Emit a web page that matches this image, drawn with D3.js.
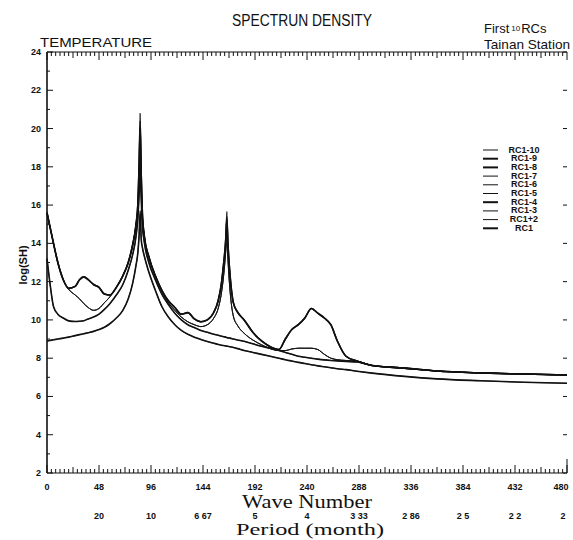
<!DOCTYPE html>
<html>
<head>
<meta charset="utf-8">
<script src="https://cdn.jsdelivr.net/npm/d3@7/dist/d3.min.js"></script>
<style>
  html, body { margin: 0; padding: 0; background: #fff; }
  svg { display: block; }
  .tick-label { font-family: "Liberation Sans", Arial, sans-serif; font-weight: bold; font-size: 9px; fill: #111; }
  .serif { font-family: "Liberation Serif", "DejaVu Serif", serif; fill: #111; }
  .sans { font-family: "Liberation Sans", Arial, sans-serif; fill: #111; }
</style>
</head>
<body>
<svg id="chart" width="573" height="540"></svg>
<script>
// Wave numbers at which each spectrum is sampled
const waveNumbers = [0, 3, 6, 10, 15, 20, 26, 30, 34, 38,
  43, 48, 53, 58, 64, 70, 75, 79, 82, 84,
  85, 86, 87, 88, 90, 94, 100, 106, 112, 118,
  124, 130, 136, 142, 148, 154, 158, 161, 163, 165,
  166, 167, 169, 172, 176, 182, 190, 198, 206, 214,
  220, 226, 232, 238, 244, 250, 256, 262, 268, 276,
  286, 300, 330, 360, 400, 440, 480];

// log spectral density of the cumulative reconstructed components
const rc1 = [8.9, 8.93, 8.96, 9.0, 9.05, 9.1, 9.18, 9.23, 9.28, 9.33,
  9.4, 9.5, 9.62, 9.8, 10.1, 10.5, 11.1, 11.9, 12.8, 13.6,
  14.4, 15.7, 14.2, 13.8, 13.3, 12.5, 11.55, 10.7, 10.15, 9.75,
  9.45, 9.25, 9.1, 8.98, 8.87, 8.78, 8.72, 8.68, 8.66, 8.64,
  8.63, 8.62, 8.6, 8.56, 8.5, 8.4, 8.3, 8.2, 8.1, 8.0,
  7.92, 7.85, 7.78, 7.72, 7.66, 7.6, 7.55, 7.5, 7.45, 7.4,
  7.32, 7.22, 7.05, 6.92, 6.82, 6.74, 6.69];
const rc1_2 = [8.9, 8.93, 8.96, 9.0, 9.05, 9.1, 9.18, 9.23, 9.28, 9.33,
  9.4, 9.5, 9.62, 9.8, 10.1, 10.5, 11.1, 11.9, 12.8, 13.6,
  14.4, 15.3, 14.2, 13.8, 13.3, 12.5, 11.55, 10.7, 10.15, 9.75,
  9.45, 9.25, 9.1, 8.98, 8.87, 8.78, 8.72, 8.68, 8.66, 8.64,
  8.63, 8.62, 8.6, 8.56, 8.5, 8.4, 8.3, 8.2, 8.1, 8.0,
  7.92, 7.85, 7.78, 7.72, 7.66, 7.6, 7.55, 7.5, 7.45, 7.4,
  7.32, 7.22, 7.05, 6.92, 6.82, 6.74, 6.69];
const rc1_3 = [13.2, 11.8, 10.7, 10.3, 10.1, 9.95, 9.92, 9.93, 9.96, 10.05,
  10.15, 10.3, 10.55, 10.85, 11.3, 11.85, 12.6, 13.4, 14.3, 15.4,
  16.5, 17.2, 16.3, 15.0, 14.0, 13.0, 12.1, 11.35, 10.8, 10.35,
  10.0, 9.75, 9.6, 9.45, 9.35, 9.25, 9.2, 9.15, 9.12, 9.1,
  9.08, 9.06, 9.05, 9.0, 8.95, 8.88, 8.75, 8.62, 8.52, 8.4,
  8.3, 8.2, 8.1, 8.05, 8.0, 7.95, 7.91, 7.88, 7.86, 7.83,
  7.8, 7.62, 7.48, 7.33, 7.23, 7.17, 7.12];
const rc1_4 = [13.2, 11.8, 10.7, 10.3, 10.1, 9.95, 9.92, 9.93, 9.96, 10.05,
  10.15, 10.3, 10.55, 10.85, 11.3, 11.85, 12.6, 13.4, 14.3, 15.4,
  16.5, 18.0, 16.3, 15.0, 14.0, 13.0, 12.1, 11.35, 10.8, 10.35,
  10.0, 9.75, 9.6, 9.45, 9.35, 9.25, 9.2, 9.15, 9.12, 9.1,
  9.08, 9.06, 9.05, 9.0, 8.95, 8.88, 8.75, 8.62, 8.52, 8.4,
  8.3, 8.2, 8.1, 8.05, 8.0, 7.95, 7.91, 7.88, 7.86, 7.83,
  7.8, 7.62, 7.48, 7.33, 7.23, 7.17, 7.12];
const rc1_5 = [15.6, 14.8, 14.0, 13.0, 12.1, 11.6, 11.3, 11.1, 10.85, 10.65,
  10.5, 10.6, 10.9, 11.2, 11.7, 12.3, 13.0, 13.9, 14.9, 16.0,
  17.5, 18.6, 17.0, 15.5, 14.3, 13.3, 12.3, 11.5, 10.9, 10.5,
  10.15, 9.9, 9.75, 9.65, 9.75, 10.1, 10.6, 11.4, 12.3, 13.6,
  14.0, 13.2, 11.5, 10.2, 9.7, 9.3, 8.95, 8.7, 8.5, 8.4,
  8.4, 8.48, 8.52, 8.52, 8.52, 8.45, 8.2, 8.0, 7.92, 7.88,
  7.85, 7.62, 7.48, 7.33, 7.23, 7.17, 7.12];
const rc1_6 = [15.6, 14.8, 14.0, 13.0, 12.1, 11.6, 11.3, 11.1, 10.85, 10.65,
  10.5, 10.6, 10.9, 11.2, 11.7, 12.3, 13.0, 13.9, 14.9, 16.0,
  17.5, 19.0, 17.0, 15.5, 14.3, 13.3, 12.3, 11.5, 10.9, 10.5,
  10.15, 9.9, 9.75, 9.65, 9.75, 10.1, 10.6, 11.4, 12.3, 13.6,
  14.4, 13.2, 11.5, 10.2, 9.7, 9.3, 8.95, 8.7, 8.5, 8.4,
  8.4, 8.48, 8.52, 8.52, 8.52, 8.45, 8.2, 8.0, 7.92, 7.88,
  7.85, 7.62, 7.48, 7.33, 7.23, 7.17, 7.12];
const rc1_7 = [15.6, 14.8, 14.0, 13.0, 12.1, 11.6, 11.3, 11.1, 10.85, 10.65,
  10.5, 10.6, 10.9, 11.2, 11.7, 12.3, 13.0, 13.9, 14.9, 16.0,
  17.5, 19.5, 17.0, 15.5, 14.3, 13.3, 12.3, 11.5, 10.9, 10.5,
  10.15, 9.9, 9.75, 9.65, 9.75, 10.1, 10.6, 11.4, 12.3, 13.6,
  14.8, 13.2, 11.5, 10.2, 9.7, 9.3, 8.95, 8.7, 8.5, 8.4,
  8.4, 8.48, 8.52, 8.52, 8.52, 8.45, 8.2, 8.0, 7.92, 7.88,
  7.85, 7.62, 7.48, 7.33, 7.23, 7.17, 7.12];
const rc1_8 = [15.6, 14.8, 14.0, 13.0, 12.1, 11.65, 11.75, 12.1, 12.25, 12.1,
  11.85, 11.7, 11.35, 11.3, 11.7, 12.3, 13.0, 13.9, 14.9, 16.2,
  18.0, 20.0, 17.5, 15.6, 14.3, 13.3, 12.3, 11.55, 11.0, 10.65,
  10.3, 10.38, 10.05, 9.9, 10.0, 10.4, 11.0, 11.9, 12.9, 14.2,
  15.2, 14.0, 12.3, 10.9, 10.4, 10.0, 9.35, 8.9, 8.6, 8.45,
  9.0, 9.5, 9.75, 10.1, 10.6, 10.35, 10.1, 9.75, 8.9, 8.1,
  7.85, 7.62, 7.48, 7.33, 7.23, 7.17, 7.12];
const rc1_9 = [15.6, 14.8, 14.0, 13.0, 12.1, 11.65, 11.75, 12.1, 12.25, 12.1,
  11.85, 11.7, 11.35, 11.3, 11.7, 12.3, 13.0, 13.9, 14.9, 16.2,
  18.0, 20.4, 17.5, 15.6, 14.3, 13.3, 12.3, 11.55, 11.0, 10.65,
  10.3, 10.38, 10.05, 9.9, 10.0, 10.4, 11.0, 11.9, 12.9, 14.2,
  15.4, 14.0, 12.3, 10.9, 10.4, 10.0, 9.35, 8.9, 8.6, 8.45,
  9.0, 9.5, 9.75, 10.1, 10.6, 10.35, 10.1, 9.75, 8.9, 8.1,
  7.85, 7.62, 7.48, 7.33, 7.23, 7.17, 7.12];
const rc1_10 = [15.6, 14.8, 14.0, 13.0, 12.1, 11.65, 11.75, 12.1, 12.25, 12.1,
  11.85, 11.7, 11.35, 11.3, 11.7, 12.3, 13.0, 13.9, 14.9, 16.2,
  18.0, 20.8, 17.5, 15.6, 14.3, 13.3, 12.3, 11.55, 11.0, 10.65,
  10.3, 10.38, 10.05, 9.9, 10.0, 10.4, 11.0, 11.9, 12.9, 14.2,
  15.66, 14.0, 12.3, 10.9, 10.4, 10.0, 9.35, 8.9, 8.6, 8.45,
  9.0, 9.5, 9.75, 10.1, 10.6, 10.35, 10.1, 9.75, 8.9, 8.1,
  7.85, 7.62, 7.48, 7.33, 7.23, 7.17, 7.12];

// Legend order (top to bottom) and stroke weights
const seriesNames = ["RC1-10", "RC1-9", "RC1-8", "RC1-7", "RC1-6", "RC1-5", "RC1-4", "RC1-3", "RC1+2", "RC1"];
const seriesValues = [rc1_10, rc1_9, rc1_8, rc1_7, rc1_6, rc1_5, rc1_4, rc1_3, rc1_2, rc1];
const seriesWidths = [1, 2, 2, 1, 1, 1, 2, 1, 1, 2];

// Axis ticks
const waveTicks = [0, 48, 96, 144, 192, 240, 288, 336, 384, 432, 480];
const periodLabels = ["20", "10", "6 67", "5", "4", "3 33", "2 86", "2 5", "2 2", "2"];
const logTicks = [2, 4, 6, 8, 10, 12, 14, 16, 18, 20, 22, 24];

const svg = d3.select("#chart");
svg.append("rect").attr("width", 573).attr("height", 540).attr("fill", "#fff");

const x = d3.scaleLinear().domain([0, 480]).range([47, 567]);
const y = d3.scaleLinear().domain([2, 24]).range([473, 52]);
const ink = "#111";

// frame: left, bottom and top edges
svg.append("line").attr("x1", x(0)).attr("x2", x(0)).attr("y1", y(24)).attr("y2", y(2))
  .attr("stroke", ink).attr("stroke-width", 1.6);
svg.append("line").attr("x1", x(0)).attr("x2", x(480)).attr("y1", y(2)).attr("y2", y(2))
  .attr("stroke", ink).attr("stroke-width", 1.2);
svg.append("line").attr("x1", x(0)).attr("x2", x(480)).attr("y1", y(24)).attr("y2", y(24))
  .attr("stroke", ink).attr("stroke-width", 1.2);

// minor ticks every 4 wave numbers on top and bottom edges
const minorWave = d3.range(0, 481, 4);
svg.append("g").selectAll("line").data(minorWave).join("line")
  .attr("x1", d => x(d)).attr("x2", d => x(d))
  .attr("y1", y(2)).attr("y2", d => y(2) - (d % 48 === 0 ? 8 : (d % 24 === 0 ? 6 : 4)))
  .attr("stroke", ink).attr("stroke-width", 1);
svg.append("g").selectAll("line").data(minorWave).join("line")
  .attr("x1", d => x(d)).attr("x2", d => x(d))
  .attr("y1", y(24)).attr("y2", d => y(24) + (d % 48 === 0 ? 8 : (d % 24 === 0 ? 6 : 4)))
  .attr("stroke", ink).attr("stroke-width", 1);

// left and right ticks
const minorLog = d3.range(2, 24.01, 1);
svg.append("g").selectAll("line").data(minorLog).join("line")
  .attr("x1", x(0)).attr("x2", d => x(0) + (d % 2 === 0 ? 6 : 3))
  .attr("y1", d => y(d)).attr("y2", d => y(d))
  .attr("stroke", ink).attr("stroke-width", 1);
svg.append("g").selectAll("line").data(logTicks).join("line")
  .attr("x1", x(480)).attr("x2", x(480) - 4)
  .attr("y1", d => y(d)).attr("y2", d => y(d))
  .attr("stroke", ink).attr("stroke-width", 1);
svg.append("line").attr("x1", x(480)).attr("x2", x(480)).attr("y1", y(2)).attr("y2", y(2) - 14)
  .attr("stroke", ink).attr("stroke-width", 1);

// tick labels
svg.append("g").selectAll("text").data(logTicks).join("text")
  .attr("class", "tick-label")
  .attr("x", 41).attr("y", d => y(d) + 3)
  .attr("text-anchor", "end").text(d => d);
svg.append("g").selectAll("text").data(waveTicks).join("text")
  .attr("class", "tick-label")
  .attr("x", d => Math.min(x(d), 561)).attr("y", 490)
  .attr("text-anchor", "middle").text(d => d);
svg.append("g").selectAll("text").data(waveTicks.slice(1)).join("text")
  .attr("class", "tick-label")
  .attr("x", d => Math.min(x(d), 563)).attr("y", 519)
  .attr("text-anchor", "middle").text((d, i) => periodLabels[i]);

// axis titles
svg.append("text").attr("class", "serif").attr("x", 242).attr("y", 508)
  .attr("font-size", 18).attr("textLength", 130).attr("lengthAdjust", "spacingAndGlyphs").text("Wave Number");
svg.append("text").attr("class", "serif").attr("x", 236).attr("y", 535)
  .attr("font-size", 16).attr("textLength", 148).attr("lengthAdjust", "spacingAndGlyphs").text("Period (month)");
svg.append("text").attr("class", "sans").attr("font-weight", "bold").attr("font-size", 11)
  .attr("transform", "translate(27,265) rotate(-90)").attr("text-anchor", "middle").text("log(SH)");

// titles
svg.append("text").attr("class", "sans").attr("x", 232).attr("y", 26)
  .attr("font-size", 16).attr("textLength", 140).attr("lengthAdjust", "spacingAndGlyphs").text("SPECTRUN DENSITY");
svg.append("text").attr("class", "sans").attr("x", 40).attr("y", 47)
  .attr("font-size", 13).attr("textLength", 112).attr("lengthAdjust", "spacingAndGlyphs").text("TEMPERATURE");
const first = svg.append("text").attr("class", "sans").attr("x", 484).attr("y", 33).attr("font-size", 13);
first.append("tspan").text("First");
first.append("tspan").attr("font-size", 8).attr("dy", -2).attr("dx", 2).text("10");
first.append("tspan").attr("dy", 2).attr("dx", 1).text("RCs");
svg.append("text").attr("class", "sans").attr("x", 484).attr("y", 49)
  .attr("font-size", 13).attr("textLength", 86).attr("lengthAdjust", "spacingAndGlyphs").text("Tainan Station");

// spectra
const line = d3.line()
  .x((d, i) => x(waveNumbers[i]))
  .y(d => y(d))
  .curve(d3.curveMonotoneX);

svg.append("g").selectAll("path").data(seriesValues).join("path")
  .attr("d", d => line(d))
  .attr("fill", "none").attr("stroke", ink)
  .attr("stroke-width", (d, i) => seriesWidths[i] * 0.8)
  .attr("stroke-linejoin", "round");

// legend
const legend = svg.append("g");
seriesNames.forEach((name, i) => {
  const ly = 150 + i * 8.7;
  legend.append("line").attr("x1", 483).attr("x2", 498).attr("y1", ly).attr("y2", ly)
    .attr("stroke", ink).attr("stroke-width", seriesWidths[i]);
  legend.append("text").attr("class", "tick-label").attr("font-size", 6.8)
    .attr("x", 524).attr("y", ly + 2.5).attr("text-anchor", "middle").text(name);
});
</script>
</body>
</html>
